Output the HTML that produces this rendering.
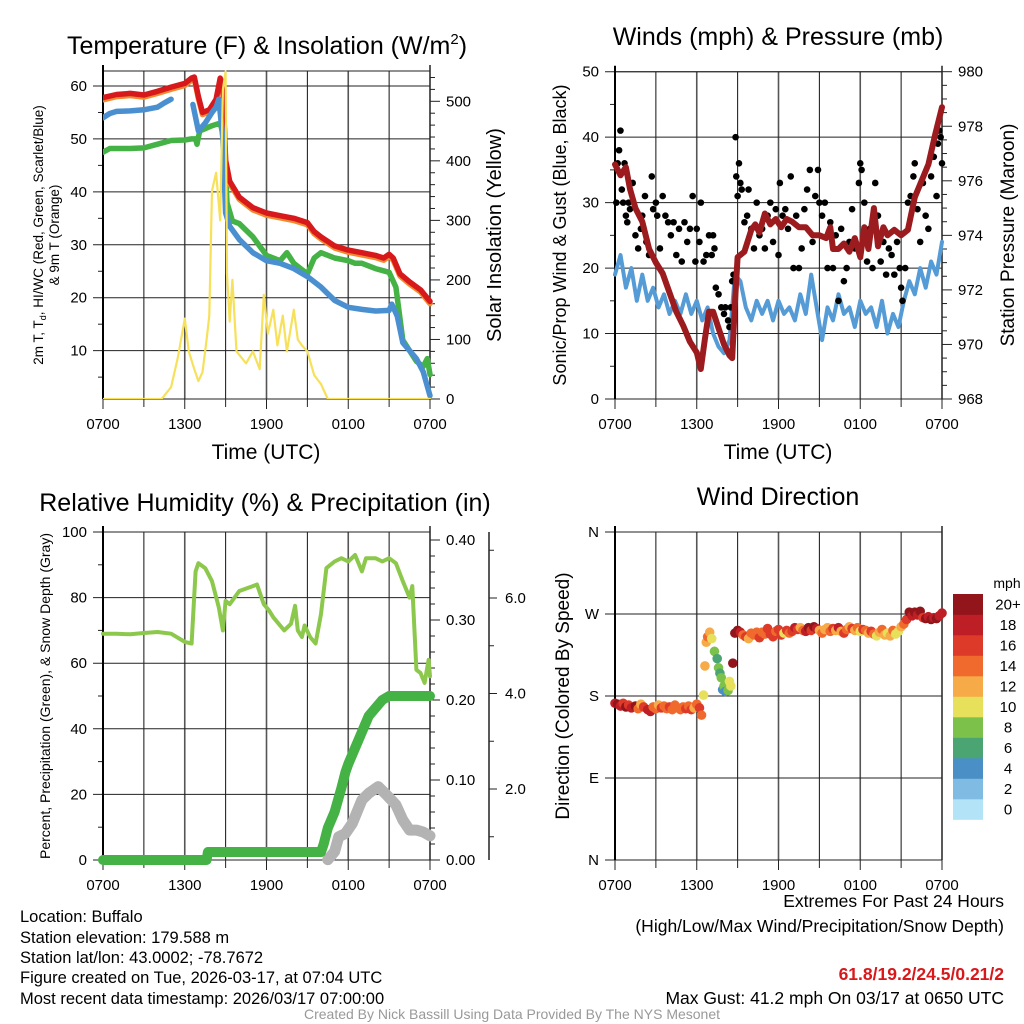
<!DOCTYPE html>
<html><head><meta charset="utf-8"><style>
html,body{margin:0;padding:0;background:#fff;}
svg{display:block;font-family:"Liberation Sans",Arial,sans-serif;}
</style></head><body>
<svg id="s" width="1024" height="1024" viewBox="0 0 1024 1024" xmlns="http://www.w3.org/2000/svg">
<rect width="1024" height="1024" fill="#fff"/>
<g id="g"></g>
<text x="267" y="54" font-size="25" text-anchor="middle">Temperature (F) &amp; Insolation (W/m<tspan font-size="15" dy="-10">2</tspan><tspan dy="10">)</tspan></text>
<text x="778" y="45" font-size="25" text-anchor="middle">Winds (mph) &amp; Pressure (mb)</text>
<text x="265" y="511" font-size="25" text-anchor="middle">Relative Humidity (%) &amp; Precipitation (in)</text>
<text x="778" y="505" font-size="25" text-anchor="middle">Wind Direction</text>
<text x="266" y="459" font-size="21" text-anchor="middle">Time (UTC)</text>
<text x="778" y="459" font-size="21" text-anchor="middle">Time (UTC)</text>
<text transform="translate(43,235) rotate(-90)" font-size="13.5" text-anchor="middle">2m T, T<tspan font-size="9" dy="3">d</tspan><tspan dy="-3">, HI/WC (Red, Green, Scarlet/Blue)</tspan></text>
<text transform="translate(59,235) rotate(-90)" font-size="13.5" text-anchor="middle">&amp; 9m T (Orange)</text>
<text transform="translate(501,235) rotate(-90)" font-size="20" text-anchor="middle">Solar Insolation (Yellow)</text>
<text transform="translate(566,235) rotate(-90)" font-size="18" text-anchor="middle">Sonic/Prop Wind &amp; Gust (Blue, Black)</text>
<text transform="translate(1014,235) rotate(-90)" font-size="19" text-anchor="middle">Station Pressure (Maroon)</text>
<text transform="translate(50,696) rotate(-90)" font-size="14" text-anchor="middle">Percent, Precipitation (Green), &amp; Snow Depth (Gray)</text>
<text transform="translate(569,696) rotate(-90)" font-size="19" text-anchor="middle">Direction (Colored By Speed)</text>
<g font-size="16.5">
<text x="20" y="922">Location: Buffalo</text>
<text x="20" y="943">Station elevation: 179.588 m</text>
<text x="20" y="963">Station lat/lon: 43.0002; -78.7672</text>
<text x="20" y="983">Figure created on Tue, 2026-03-17, at 07:04 UTC</text>
<text x="20" y="1004">Most recent data timestamp: 2026/03/17 07:00:00</text>
</g>
<g font-size="17.5" text-anchor="end">
<text x="1004" y="907">Extremes For Past 24 Hours</text>
<text x="1004" y="932">(High/Low/Max Wind/Precipitation/Snow Depth)</text>
<text x="1004" y="980" fill="#d7191c" font-weight="bold">61.8/19.2/24.5/0.21/2</text>
<text x="1004" y="1004">Max Gust: 41.2 mph On 03/17 at 0650 UTC</text>
</g>
<text x="512" y="1019" font-size="14" fill="#999" text-anchor="middle">Created By Nick Bassill Using Data Provided By The NYS Mesonet</text>
</svg>
<script>
// ---- data ----
const tempRed=[[0,57.8],[1,58.4],[2,58.6],[3,58.3],[4,59],[5,59.8],[6,60.5],[6.5,61.5],[6.7,61.7],[7,58],[7.3,55],[7.8,55.5],[8.3,57.5],[8.6,61.5],[8.8,60],[9.0,46],[9.3,42],[10,39],[11,37],[12,36],[13,35.5],[14,35],[15,34.2],[15.5,32.5],[16,31.5],[17,29.8],[18,29],[19,28.5],[20,28],[20.6,27.5],[21,28.2],[21.3,27.5],[21.8,24.5],[22.5,23],[23.3,21.5],[24,19.3]];
const tempBlue1=[[0,54],[0.5,54.8],[1,55.2],[2,55.3],[3,55.5],[4,56],[4.5,56.8],[5,57.5]];
const tempBlue2=[[6.6,56.5],[7,51.5],[7.5,53],[8,55],[8.3,56],[8.5,57.5],[8.8,50],[9,36],[9.3,33.5],[10,31],[11,28.5],[12,27],[13,26.5],[14,25.5],[15,24],[16,22],[17,19.5],[18,18.2],[19,17.8],[20,17.5],[21,17.6],[21.2,18.8],[21.6,16.5],[22,11.5],[23,8.5],[23.5,6],[24,1.5]];
const tempGreen=[[0,47.5],[0.5,48.2],[1,48.2],[2,48.2],[3,48.3],[4,49],[5,49.7],[6,49.8],[6.5,50],[6.8,50],[6.9,49],[7.1,51.5],[8,52.5],[8.6,53],[8.9,50],[9.1,38],[9.5,34.5],[10,34],[11,31.5],[12,28],[13,27],[13.5,28.5],[14,26.5],[15,24.5],[15.5,27.5],[16,28.5],[17,27.5],[18,27],[18.5,26.5],[19,26.5],[20,25.5],[21,24.8],[21.5,22],[22,12],[22.5,10],[23,8],[23.5,7],[23.8,8.5],[24,5.5]];
const solar=[[0,0],[4.3,0],[5,20],[5.5,70],[6,135],[6.3,80],[6.7,50],[7,30],[7.3,45],[7.6,100],[7.8,140],[8,350],[8.3,380],[8.6,300],[8.8,520],[9.0,550],[9.1,210],[9.3,130],[9.5,200],[9.8,80],[10.5,60],[11,80],[11.5,50],[11.8,175],[12.1,110],[12.5,150],[12.8,90],[13.2,140],[13.5,80],[14,150],[14.3,100],[14.6,90],[15,80],[15.5,40],[16,25],[16.5,0],[24,0]];
const windSpeed=[19,22,17,20,15,19,15,17,14,16,13,15,13,16,13,15,12,14,10,8,7,9,19,18,14,12,15,13,15,12,15,13,14,12,16,13,19,14,9,14,12,16,13,14,11,15,13,14,11,15,10,13,11,15,18,16,20,17,21,19,24];
const gusts=[[0.1,30],[0.2,36],[0.3,38],[0.4,41],[0.5,32],[0.6,30],[0.7,36],[0.8,28],[0.9,27],[1,30],[1.1,29],[1.3,33],[1.5,25],[1.7,23],[1.9,26],[2,28],[2.2,31],[2.3,24],[2.5,22],[2.7,34],[2.8,29],[3,30],[3.1,28],[3.3,23],[3.5,31],[3.7,28],[3.9,27],[4.1,25],[4.3,27],[4.5,22],[4.7,26],[4.9,21],[5.1,27],[5.3,24],[5.5,26],[5.7,31],[5.9,21],[6,26],[6.2,24],[6.3,30],[6.5,21],[6.7,22],[6.9,25],[7.1,22],[7.2,25],[7.3,23],[7.4,17],[7.6,16],[7.8,14],[8,13],[8.1,14],[8.3,12],[8.4,11],[8.5,14],[8.6,18],[8.7,19],[8.85,40],[8.9,34],[9.0,31],[9.1,36],[9.2,33],[9.3,32],[9.5,27],[9.7,28],[9.8,32],[10,26],[10.2,23],[10.4,30],[10.6,25],[10.8,26],[11,23],[11.2,28],[11.4,30],[11.6,24],[11.8,29],[12,22],[12.1,33],[12.3,28],[12.5,29],[12.7,26],[12.9,34],[13.1,20],[13.3,28],[13.5,20],[13.7,23],[13.9,29],[14.1,32],[14.3,35],[14.5,24],[14.7,31],[14.9,35],[15,30],[15.2,28],[15.4,30],[15.6,20],[15.8,27],[16,20],[16.2,25],[16.4,15],[16.6,26],[16.8,18],[17,20],[17.2,24],[17.4,29],[17.6,23],[17.9,33],[18,36],[18.1,35],[18.3,30],[18.5,21],[18.7,26],[18.9,20],[19.1,33],[19.3,28],[19.5,21],[19.7,24],[19.9,19],[20.1,23],[20.3,22],[20.5,19],[20.7,24],[20.9,20],[21,17],[21.1,15],[21.3,20],[21.5,30],[21.7,31],[21.9,34],[22,36],[22.2,29],[22.4,24],[22.6,33],[22.8,28],[23,26],[23.2,34],[23.4,37],[23.6,31],[23.7,39],[23.8,41],[23.9,40],[24,36]];
const pressure=[[0,976.6],[0.4,976.2],[0.8,976.5],[1.1,975.7],[1.5,975],[2,974.5],[2.5,973.5],[3,973],[3.5,972.6],[4,971.9],[4.5,971.2],[5,970.7],[5.5,970.1],[6,969.7],[6.3,969.1],[6.6,970.2],[6.9,971.2],[7.2,971.2],[7.6,970.6],[8,970],[8.4,969.6],[8.6,969.5],[8.8,971.5],[9.0,973.2],[9.5,973.4],[10,974.2],[10.3,974.4],[10.6,974.1],[11,974.8],[11.4,974.4],[11.8,974.6],[12.2,974.3],[12.6,974.6],[13,974.5],[13.5,974.3],[14,974.3],[14.5,974],[15,974],[15.5,973.9],[15.8,974.3],[16,973.5],[16.4,973.5],[16.8,973.7],[17.2,973.4],[17.6,973.9],[18,973.2],[18.3,974.3],[18.6,973.5],[19,975],[19.3,973.6],[19.7,974.3],[20,974],[20.5,974.2],[21,974],[21.5,974.2],[22,975.4],[22.5,976],[23,976.6],[23.5,977.7],[24,978.7]];
const rh=[[0,69],[1,69],[2,68.8],[3,69.2],[4,69.5],[5,69],[6,66.5],[6.5,66],[6.8,88],[7,90.5],[7.5,89],[8,85],[8.5,77],[8.8,70],[9,79],[9.3,78],[10,82],[11,83.5],[11.3,84],[11.8,78],[12.2,76],[12.5,74],[13,71.5],[13.3,70],[13.8,72],[14.1,77.5],[14.3,70],[14.6,68],[14.8,71.5],[15.2,68],[15.6,66],[16,75],[16.4,89],[17,91],[17.5,92],[18,91],[18.5,93],[19,88],[19.3,92],[20,92],[20.5,91],[21,92],[21.5,90.5],[22,85],[22.5,80],[22.7,83.5],[23,58],[23.3,57],[23.6,54],[23.9,61],[24,56]];
const precip=[[0,0],[7.6,0],[7.7,0.01],[16,0.01],[16.2,0.02],[16.5,0.04],[17,0.06],[17.5,0.09],[17.8,0.11],[18,0.12],[18.5,0.14],[19,0.16],[19.5,0.18],[20,0.19],[20.5,0.2],[21,0.205],[24,0.205]];
const snow=[[16.5,0.52],[17,0.69],[17.3,1.0],[17.8,1.07],[18.3,1.28],[19,1.77],[19.5,1.91],[20.2,2.05],[20.8,1.88],[21.5,1.67],[22,1.35],[22.5,1.14],[23,1.14],[23.5,1.1],[24,1.02]];
const wdir=[[0,172,18],[0.2,171,20],[0.4,169,18],[0.6,172,16],[0.8,168,20],[1,170,16],[1.2,167,18],[1.5,169,20],[1.7,166,14],[1.9,171,13],[2.1,168,16],[2.4,165,18],[2.6,163,18],[2.8,168,14],[3,166,15],[3.2,170,12],[3.4,167,16],[3.6,169,15],[3.8,166,14],[4,168,16],[4.2,165,14],[4.4,170,15],[4.6,167,14],[4.8,165,15],[5,168,14],[5.2,166,16],[5.4,169,14],[5.6,165,17],[5.8,167,13],[6,171,14],[6.2,167,16],[6.35,159,14],[6.5,181,10],[6.6,213,13],[6.7,239,12],[6.8,245,14],[6.95,250,12],[7.1,243,10],[7.3,229,8],[7.5,221,7],[7.6,211,8],[7.7,205,7],[7.8,200,8],[7.9,187,5],[8.0,191,8],[8.1,185,5],[8.3,186,8],[8.4,196,10],[8.5,191,10],[8.65,216,20],[8.8,249,20],[9,252,20],[9.2,250,18],[9.4,247,14],[9.6,245,16],[9.8,243,12],[10,249,14],[10.2,247,14],[10.4,250,14],[10.6,244,16],[10.8,250,14],[11,248,14],[11.2,254,16],[11.4,248,16],[11.6,245,16],[11.8,251,14],[12,253,16],[12.2,247,16],[12.4,249,10],[12.6,252,16],[12.8,249,14],[13,251,16],[13.2,255,18],[13.4,253,16],[13.6,255,12],[13.8,252,14],[14,251,18],[14.2,255,20],[14.4,252,16],[14.6,256,20],[14.8,254,18],[15,252,12],[15.2,249,14],[15.4,253,12],[15.6,255,12],[15.8,251,14],[16,254,16],[16.2,252,12],[16.4,255,18],[16.6,251,12],[16.8,249,16],[17,253,14],[17.2,256,12],[17.4,254,16],[17.6,252,12],[17.8,255,14],[18,251,10],[18.2,253,16],[18.4,252,14],[18.6,249,12],[18.8,251,16],[19,248,14],[19.2,246,10],[19.4,250,12],[19.6,253,14],[19.8,247,12],[20,249,10],[20.2,246,12],[20.4,252,14],[20.6,248,10],[20.8,251,10],[21,256,12],[21.2,259,14],[21.4,264,16],[21.6,272,20],[21.8,268,18],[22,272,20],[22.2,269,18],[22.4,273,20],[22.6,266,16],[22.8,265,20],[23,267,18],[23.2,264,20],[23.4,266,18],[23.6,265,20],[23.8,268,18],[24,271,18]];
const xTickLabels=["0700","1300","1900","0100","0700"];
const speedLabels=["0","2","4","6","8","10","12","14","16","18","20+"];
const speedColors=["#b3e3f7","#7fbbe3","#4a90c6","#4aa573","#7cc24a","#e6e05a","#f6ab48","#ef6a2c","#dd3a2a","#be1e25","#91151a"];

// ---- helpers ----
const NS="http://www.w3.org/2000/svg";
const G=document.getElementById('g');
function el(tag,attrs,parent){const e=document.createElementNS(NS,tag);for(const k in attrs)e.setAttribute(k,attrs[k]);(parent||G).appendChild(e);return e;}
function lin(d0,d1,r0,r1){return v=>r0+(v-d0)/(d1-d0)*(r1-r0);}
function poly(pts,fx,fy,attrs,name){
  const d=pts.map((p,i)=>(i?'L':'M')+fx(p[0]).toFixed(1)+' '+fy(p[1]).toFixed(1)).join(' ');
  const p=el('path',Object.assign({d:d,fill:'none','stroke-linejoin':'round','stroke-linecap':'round'},attrs));
  
  
  return p;
}
function frame(x0,x1,y0,y1,yTicks,fy,yLabels,minorY,name){
  const g=el('g',{});
  
  
  const fx=lin(0,24,x0,x1);
  for(let h=3;h<24;h+=3){el('line',{x1:fx(h),x2:fx(h),y1:y0,y2:y1,stroke:(h%6==3)?'#111':'#555','stroke-width':h%6==3?1:1.6},g);}
  yTicks.forEach((v,i)=>{const y=fy(v);el('line',{x1:x0-10,x2:x1,y1:y,y2:y,stroke:'#222','stroke-width':1},g);
    const t=el('text',{x:x0-16,y:y+5,'font-size':15,'text-anchor':'end'},g);t.textContent=yLabels[i];});
  minorY.forEach(v=>{const y=fy(v);el('line',{x1:x0-5,x2:x0,y1:y,y2:y,stroke:'#222'},g);});
  for(let h=0;h<=24;h+=3){el('line',{x1:fx(h),x2:fx(h),y1:y1,y2:y1+(h%6==0?10:8),stroke:'#222'},g);}
  xTickLabels.forEach((lab,i)=>{const t=el('text',{x:fx(i*6),y:y1+30,'font-size':15,'text-anchor':'middle'},g);t.textContent=lab;});
  el('line',{x1:x0,x2:x1,y1:y0,y2:y0,stroke:'#222'},g);
  el('line',{x1:x0,x2:x1,y1:y1,y2:y1,stroke:'#222'},g);
  el('line',{x1:x0,x2:x0,y1:y0-6,y2:y1,stroke:'#000','stroke-width':2},g);
  el('line',{x1:x1,x2:x1,y1:y0-6,y2:y1,stroke:'#222','stroke-width':1.5},g);
  return fx;
}
function rightAxis(x,ticks,fy,labels,minor,g,len){
  ticks.forEach((v,i)=>{const y=fy(v);el('line',{x1:x,x2:x+(len||10),y1:y,y2:y,stroke:'#222'},g);
    const t=el('text',{x:x+16,y:y+5,'font-size':15},g);t.textContent=labels[i];});
  minor.forEach(v=>{const y=fy(v);el('line',{x1:x,x2:x+5,y1:y,y2:y,stroke:'#222'},g);});
}

// ---- Panel 1: Temperature ----
(function(){
  const x0=103,x1=430,y0=71,y1=399;
  const fy=lin(0,60,403.6,86);
  const fx=frame(x0,x1,y0,y1,[10,20,30,40,50,60],fy,["10","20","30","40","50","60"],[5,15,25,35,45,55],'temp');
  const fs=lin(0,500,399,101.3);
  const g=el('g',{});
  rightAxis(x1,[0,100,200,300,400,500],fs,["0","100","200","300","400","500"],[20,40,60,80,120,140,160,180,220,240,260,280,320,340,360,380,420,440,460,480,520,540],g);
  const clip=el('clipPath',{id:'c1'});el('rect',{x:x0,y:y0-2,width:x1-x0+4,height:y1-y0+2},clip);
  const pg=el('g',{'clip-path':'url(#c1)'});
  G.appendChild(pg);
  pg.appendChild(poly(tempGreen,fx,fy,{stroke:'#44b245','stroke-width':5.5},'dewpoint-line'));
  pg.appendChild(poly(tempRed.map(p=>[p[0],p[1]-0.4]),fx,fy,{stroke:'#f28a30','stroke-width':5.5},'9m-temp-line'));
  pg.appendChild(poly(tempRed,fx,fy,{stroke:'#d7191c','stroke-width':5.5},'temp-line'));
  pg.appendChild(poly(tempBlue1,fx,fy,{stroke:'#4a90d0','stroke-width':5.5},'heat-index-line'));
  pg.appendChild(poly(tempBlue2,fx,fy,{stroke:'#4a90d0','stroke-width':5.5},'wind-chill-line'));
  pg.appendChild(poly(solar,fx,fs,{stroke:'#f7e15b','stroke-width':2.2},'solar-line'));
})();

// ---- Panel 2: Winds ----
(function(){
  const x0=615,x1=942,y0=71.7,y1=399;
  const fy=lin(0,50,399,71.7);
  const fx=frame(x0,x1,y0,y1,[0,10,20,30,40,50],fy,["0","10","20","30","40","50"],[5,15,25,35,45],'wind');
  const fp=lin(968,980,399,71.7);
  const g=el('g',{});
  rightAxis(x1,[968,970,972,974,976,978,980],fp,["968","970","972","974","976","978","980"],[968.5,969,969.5,970.5,971,971.5,972.5,973,973.5,974.5,975,975.5,976.5,977,977.5,978.5,979,979.5],g);
  const pts=windSpeed.map((v,i)=>[i*0.4,v]);
  poly(pts,fx,fy,{stroke:'#559bd6','stroke-width':4},'wind-speed-line');
  gusts.forEach(p=>{const c=el('circle',{cx:fx(p[0]),cy:fy(p[1]),r:3.3,fill:'#000'});
    
    });
  poly(pressure,fx,fp,{stroke:'#9b1b1e','stroke-width':6},'pressure-line');
})();

// ---- Panel 3: RH ----
(function(){
  const x0=103,x1=430,y0=532,y1=860;
  const fy=lin(0,100,860,532);
  const fx=frame(x0,x1,y0,y1,[0,20,40,60,80,100],fy,["0","20","40","60","80","100"],[10,30,50,70,90],'rh');
  const fpr=lin(0,0.4,860,540);
  const g=el('g',{});
  rightAxis(x1,[0,0.1,0.2,0.3,0.4],fpr,["0.00","0.10","0.20","0.30","0.40"],[0.02,0.04,0.06,0.08,0.12,0.14,0.16,0.18,0.22,0.24,0.26,0.28,0.32,0.34,0.36,0.38],g);
  const fsn=lin(0,2,884.5,789);
  const g2=el('g',{});
  el('line',{x1:489,x2:489,y1:532,y2:860,stroke:'#222','stroke-width':1.5},g2);
  rightAxis(489,[2,4,6],fsn,["2.0","4.0","6.0"],[1,3,5,7],g2,8);
  const clip=el('clipPath',{id:'c3'});el('rect',{x:x0-10,y:y0,width:x1-x0+20,height:y1-y0+14},clip);
  const pg=el('g',{'clip-path':'url(#c3)'});
  pg.appendChild(poly(snow,fx,fsn,{stroke:'#b3b3b3','stroke-width':11},'snow-depth-line'));
  pg.appendChild(poly(precip,fx,fpr,{stroke:'#44b245','stroke-width':10},'precip-line'));
  pg.appendChild(poly(rh,fx,fy,{stroke:'#8cc84b','stroke-width':4},'rh-line'));
})();

// ---- Panel 4: Wind direction ----
(function(){
  const x0=615,x1=942,y0=532,y1=860;
  const fy=lin(0,360,860,532);
  const fx=frame(x0,x1,y0,y1,[0,90,180,270,360],fy,["N","E","S","W","N"],[],'wdir');
  wdir.forEach(p=>{const bin=Math.min(10,Math.max(0,Math.floor(p[2]/2)));
    const c=el('circle',{cx:fx(p[0]),cy:fy(p[1]),r:4.8,fill:speedColors[bin]});
    
    });
  const lg=el('g',{});
  const top=594,h=20.5;
  speedColors.forEach((c,i)=>{const k=10-i;el('rect',{x:953,y:top+k*h,width:30,height:h+0.3,fill:c},lg);
    const t=el('text',{x:1008,y:top+k*h+h/2+5,'font-size':15,'text-anchor':'middle'},lg);t.textContent=speedLabels[i];});
  const m=el('text',{x:1007,y:588,'font-size':14,'text-anchor':'middle'},lg);m.textContent='mph';
})();
</script>
</body></html>
